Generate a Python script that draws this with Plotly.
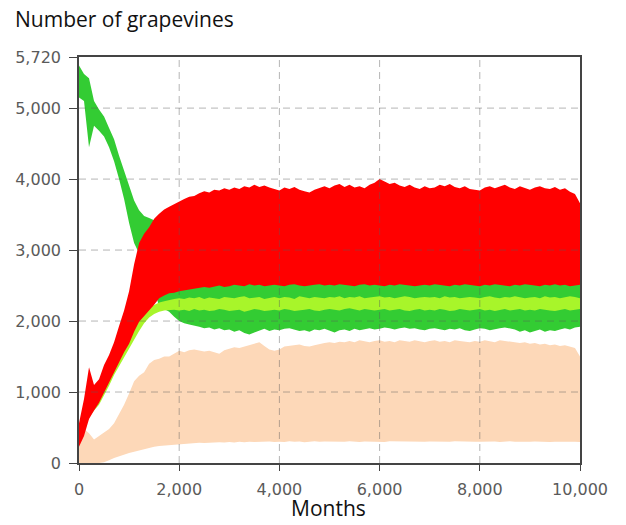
import plotly.graph_objects as go

MONTHS = list(range(0, 10001, 100))

# Dark green series envelope
G_HI = [5600, 5480, 5420, 5100, 4980, 4880, 4720, 4560, 4330, 4120,
        3900, 3700, 3560, 3480, 3450, 3420, 2520, 2540, 2530, 2550,
        2530, 2540, 2520, 2550, 2530, 2540, 2560, 2530, 2540, 2550,
        2530, 2540, 2560, 2530, 2550, 2540, 2530, 2560, 2540, 2530,
        2550, 2540, 2530, 2560, 2540, 2530, 2550, 2540, 2560, 2530,
        2540, 2550, 2530, 2560, 2540, 2530, 2550, 2540, 2530, 2560,
        2540, 2550, 2530, 2540, 2560, 2530, 2550, 2540, 2530, 2550,
        2540, 2560, 2530, 2540, 2550, 2530, 2560, 2540, 2530, 2550,
        2540, 2530, 2560, 2540, 2550, 2530, 2540, 2560, 2530, 2540,
        2550, 2530, 2540, 2560, 2530, 2550, 2540, 2530, 2550, 2540,
        2530]
G_LO = [5150, 5100, 4450, 4750, 4680, 4600, 4450, 4250, 4000, 3720,
        3380, 3100, 2950, 2850, 2650, 2450, 2200, 2170, 2130, 2060,
        2000, 1970, 1950, 1930, 1920, 1900, 1910, 1880, 1900, 1870,
        1880, 1850, 1870, 1830, 1810, 1840, 1870, 1890, 1860, 1880,
        1870, 1890, 1900, 1880, 1860, 1870, 1850, 1880, 1870, 1890,
        1860, 1840, 1870, 1880, 1860, 1890, 1870, 1880, 1900, 1880,
        1890, 1910, 1900, 1880, 1900, 1910, 1890, 1900, 1880, 1870,
        1890, 1900, 1880, 1870, 1890, 1880, 1900, 1870, 1860, 1880,
        1900, 1890, 1870, 1880, 1900, 1910, 1890, 1880, 1850, 1870,
        1840, 1860, 1880, 1850, 1870, 1860, 1880, 1900, 1880, 1910,
        1920]

# Light (yellow) green series envelope
LG_HI = [400, 560, 720, 840, 950, 1090, 1230, 1390, 1530, 1660,
         1790, 1910, 2030, 2130, 2190, 2230, 2260, 2280, 2300, 2310,
         2320, 2310, 2330, 2320, 2340, 2310, 2330, 2320, 2310, 2340,
         2330, 2320, 2340, 2350, 2320, 2330, 2340, 2310, 2330, 2340,
         2320, 2340, 2330, 2310, 2350, 2330, 2320, 2340, 2330, 2320,
         2340, 2330, 2350, 2320, 2340, 2330, 2350, 2320, 2330, 2340,
         2350, 2330, 2340, 2320, 2330, 2350, 2340, 2320, 2330, 2340,
         2330, 2340, 2320, 2350, 2330, 2340, 2320, 2330, 2340, 2330,
         2320, 2340, 2350, 2330, 2320, 2340, 2330, 2350, 2340, 2320,
         2330, 2340, 2320, 2350, 2330, 2340, 2320, 2330, 2350, 2340,
         2320]
LG_LO = [300, 430, 640, 740, 820, 950, 1090, 1240, 1370, 1490,
         1610, 1740, 1860, 1970, 2050, 2100, 2130, 2150, 2160, 2160,
         2150, 2160, 2140, 2170, 2150, 2160, 2140, 2150, 2170, 2160,
         2140, 2150, 2160, 2130, 2150, 2170, 2160, 2140, 2150, 2160,
         2150, 2170, 2160, 2140, 2150, 2160, 2170, 2150, 2140, 2160,
         2170, 2160, 2150, 2170, 2180, 2160, 2150, 2170, 2160, 2150,
         2160, 2170, 2150, 2160, 2170, 2150, 2140, 2160, 2170, 2150,
         2160, 2150, 2170, 2160, 2140, 2150, 2170, 2160, 2150, 2160,
         2170, 2150, 2160, 2140, 2160, 2170, 2150, 2160, 2170, 2150,
         2160, 2150, 2170, 2160, 2150, 2140, 2160, 2170, 2150, 2160,
         2170]

# Red series envelope
R_HI = [560, 900, 1350, 1100, 1180, 1380, 1520, 1700, 1930, 2150,
        2420, 2800, 3100, 3230, 3320, 3440, 3510, 3570, 3610, 3650,
        3690, 3720, 3750, 3760, 3800, 3830, 3810, 3850, 3840, 3870,
        3850, 3880, 3860, 3900, 3880, 3920, 3890, 3910, 3880, 3860,
        3840, 3880, 3860, 3890, 3850, 3830, 3810, 3850, 3880, 3900,
        3870, 3910, 3930, 3890, 3920, 3880, 3900, 3870, 3920, 3950,
        4000, 3960, 3930, 3950, 3910, 3890, 3920, 3880, 3860, 3900,
        3870, 3880, 3920, 3900, 3930, 3890, 3870, 3900, 3860, 3850,
        3840, 3880, 3900, 3870, 3890, 3920, 3880, 3860, 3900, 3870,
        3850, 3880, 3900, 3870, 3860, 3890, 3850, 3870, 3820, 3790,
        3660]
R_LO = [230, 380, 620, 740, 850, 1000, 1130, 1280, 1420, 1560,
        1680, 1850, 1990, 2080, 2150, 2230, 2320, 2360, 2390, 2400,
        2420, 2440, 2450, 2460, 2470, 2480, 2470, 2490, 2500, 2480,
        2490, 2510, 2500, 2490, 2520, 2500, 2510, 2490, 2500, 2510,
        2500, 2490, 2510, 2520, 2500, 2490, 2500, 2510, 2520, 2500,
        2510, 2500, 2520, 2510, 2500, 2490, 2510, 2520, 2500, 2510,
        2500, 2490, 2510, 2500, 2520, 2510, 2500, 2490, 2500, 2510,
        2500, 2520, 2510, 2500, 2490, 2510, 2500, 2520, 2510, 2500,
        2490, 2510, 2500, 2520, 2510, 2500, 2490, 2510, 2500, 2520,
        2510, 2500, 2490, 2510, 2500, 2520, 2500, 2510, 2490, 2500,
        2510]

# Peach series envelope
P_HI = [300, 480, 420, 330, 380, 430, 480, 560, 680, 820,
        980, 1150, 1230, 1280, 1400, 1450, 1470, 1500, 1500, 1540,
        1580, 1560, 1590, 1600, 1590, 1570, 1580, 1560, 1540, 1590,
        1610, 1630, 1620, 1640, 1660, 1690, 1700, 1650, 1600, 1580,
        1600, 1640, 1650, 1660, 1670, 1650, 1640, 1660, 1680, 1690,
        1700, 1690, 1710, 1700, 1720, 1700, 1730, 1710, 1700, 1720,
        1730, 1710, 1720, 1700, 1730, 1720, 1710, 1730, 1720, 1700,
        1720, 1730, 1710, 1720, 1700, 1730, 1720, 1710, 1700, 1720,
        1710, 1730, 1720, 1700, 1730, 1720, 1710, 1700, 1690, 1700,
        1680, 1690, 1670, 1680, 1660, 1670, 1650, 1660, 1640, 1620,
        1500]
P_LO = [0, 0, 0, 0, 0, 10, 40, 70, 100, 120,
        140, 160, 180, 200, 215, 230, 240, 250, 255, 262,
        268, 272, 275, 280, 285, 282, 290, 286, 292, 288,
        295, 290, 298, 292, 300, 296, 290, 298, 302, 295,
        300, 296, 305, 298, 302, 294, 300, 306, 298, 302,
        296, 304, 300, 298, 306, 300, 295, 302, 298, 304,
        300, 296, 305, 300, 298, 304, 296, 302, 300, 298,
        304, 300, 296, 302, 298, 305, 300, 296, 302, 298,
        300, 304, 298, 302, 296, 300, 305, 298, 302, 296,
        300, 304, 298, 302, 296, 300, 304, 298, 302, 300,
        296]

for arr in (G_HI, G_LO, LG_HI, LG_LO, R_HI, R_LO, P_HI, P_LO):
    assert len(arr) == len(MONTHS), len(arr)

X_TICKS = [0, 2000, 4000, 6000, 8000, 10000]
X_TICKTEXT = ["0", "2,000", "4,000", "6,000", "8,000", "10,000"]
Y_TICKS = [0, 1000, 2000, 3000, 4000, 5000, 5720]
Y_TICKTEXT = ["0", "1,000", "2,000", "3,000", "4,000", "5,000", "5,720"]
X_MAX = 10000
Y_MAX = 5720

SERIES = [
    ("Peach", P_HI, P_LO, "#FDD8B8"),
    ("Green", G_HI, G_LO, "#33CC33"),
    ("Light green", LG_HI, LG_LO, "#A8F52A"),
    ("Red", R_HI, R_LO, "#FF0000"),
]

fig = go.Figure()
for name, hi, lo, col in SERIES:
    fig.add_trace(go.Scatter(
        x=MONTHS + MONTHS[::-1],
        y=hi + lo[::-1],
        fill="toself",
        fillcolor=col,
        line=dict(width=0, color=col),
        mode="lines",
        name=name,
        hoverinfo="skip",
        showlegend=False,
    ))

grid_style = dict(color="rgba(90,90,90,0.45)", width=1, dash="7px,5px")
shapes = []
for xv in X_TICKS[1:-1]:
    shapes.append(dict(type="line", xref="x", yref="paper", x0=xv, x1=xv,
                       y0=0, y1=1, line=grid_style, layer="above"))
for yv in Y_TICKS[1:-1]:
    shapes.append(dict(type="line", xref="paper", yref="y", x0=0, x1=1,
                       y0=yv, y1=yv, line=grid_style, layer="above"))

tick_font = dict(family="DejaVu Sans", size=16, color="#5a5a5a")
axis_common = dict(showline=True, mirror=True, linecolor="#444444", linewidth=1.6,
                   ticks="outside", tickcolor="#444444", tickwidth=1,
                   showgrid=False, zeroline=False, tickfont=tick_font,
                   automargin=False)

fig.update_layout(
    width=626, height=525,
    margin=dict(l=79, r=46, t=57, b=62, autoexpand=False),
    paper_bgcolor="white", plot_bgcolor="white",
    shapes=shapes,
    xaxis=dict(range=[0, X_MAX], tickvals=X_TICKS, ticktext=X_TICKTEXT,
               ticklen=6, ticklabelstandoff=5, **axis_common),
    yaxis=dict(range=[0, Y_MAX], tickvals=Y_TICKS, ticktext=Y_TICKTEXT,
               ticklen=8, ticklabelstandoff=5, **axis_common),
    annotations=[
        dict(text="Number of grapevines", xref="paper", yref="paper",
             x=-66/501, y=1 + 38/406, xanchor="left", yanchor="middle",
             showarrow=False, font=dict(family="Open Sans", size=21, color="#111")),
        dict(text="Months", xref="paper", yref="paper",
             x=(328 - 79) / 501, y=-45/406, xanchor="center", yanchor="middle",
             showarrow=False, font=dict(family="Open Sans", size=21, color="#111")),
    ],
)

fig.write_html("out.html",
               config={"displayModeBar": False},
               post_script="document.body.style.margin='0';document.body.style.overflow='hidden';")
